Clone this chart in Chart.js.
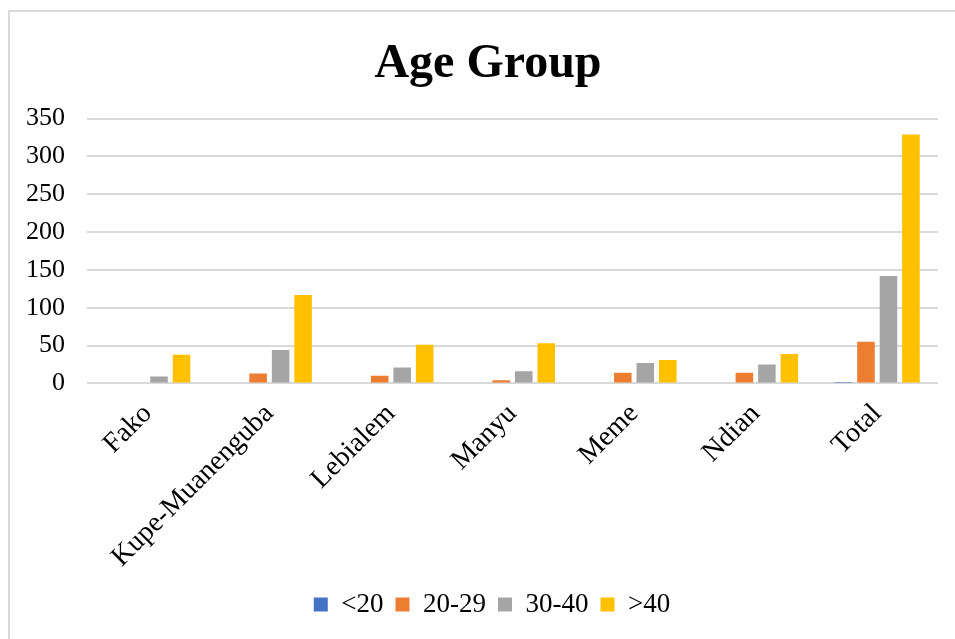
<!DOCTYPE html>
<html>
<head>
<meta charset="utf-8">
<script src="https://cdn.jsdelivr.net/npm/chart.js@4/dist/chart.umd.min.js"></script>
<style>
  html, body { margin: 0; padding: 0; background: #fff; }
  #frame {
    position: absolute; left: 8px; top: 10px; width: 1000px; height: 700px;
    border-left: 2px solid #d9d9d9; border-top: 2px solid #d9d9d9;
  }
  #wrap { position: absolute; left: 0; top: 0; width: 955px; height: 639px; }
</style>
</head>
<body>
<div id="frame"></div>
<div id="wrap"><canvas id="age-chart"></canvas></div>
<script>
const categories = ["Fako", "Kupe-Muanenguba", "Lebialem", "Manyu", "Meme", "Ndian", "Total"];
const under20 = [0, 0, 0, 0, 0, 0, 2];
const age20to29 = [0, 13, 10, 4, 14, 14, 55];
const age30to40 = [9, 44, 21, 16, 27, 25, 142];
const over40 = [38, 117, 51, 53, 31, 39, 329];
const yTicks = [0, 50, 100, 150, 200, 250, 300, 350];

const serif = "'Liberation Serif', 'Times New Roman', serif";

function series(label, data, color) {
  return {
    label,
    data,
    backgroundColor: color,
    borderWidth: 0,
    categoryPercentage: 0.74,
    barPercentage: 0.78
  };
}

// title and legend sit a little right of the canvas centre in the original
const nudgeBoxes = {
  id: "nudgeBoxes",
  afterLayout(chart) {
    if (chart.titleBlock) {
      chart.titleBlock.left += 17;
      chart.titleBlock.right += 17;
    }
    if (chart.legend) {
      chart.legend.left += 21;
      chart.legend.right += 21;
    }
  }
};

const ctx = document.getElementById("age-chart").getContext("2d");

new Chart(ctx, {
  type: "bar",
  data: {
    labels: categories,
    datasets: [
      series("<20", under20, "#4472C4"),
      series("20-29", age20to29, "#ED7D31"),
      series("30-40", age30to40, "#A5A5A5"),
      series(">40", over40, "#FFC000")
    ]
  },
  options: {
    responsive: true,
    maintainAspectRatio: false,
    animation: false,
    layout: { padding: { left: 4, right: 17, top: 36, bottom: 11 } },
    plugins: {
      title: {
        display: true,
        text: "Age Group",
        color: "#000",
        font: { family: serif, size: 48, weight: "bold" },
        padding: { top: 0, bottom: 25 }
      },
      legend: {
        position: "bottom",
        labels: {
          color: "#000",
          font: { family: serif, size: 27 },
          boxWidth: 14,
          boxHeight: 14,
          padding: 12
        }
      },
      tooltip: { enabled: false }
    },
    scales: {
      x: {
        grid: { display: false, drawTicks: false },
        border: { display: false },
        afterFit: axis => { axis.height -= 9; },
        ticks: {
          color: "#000",
          font: { family: serif, size: 28 },
          minRotation: 45,
          maxRotation: 45,
          padding: 14
        }
      },
      y: {
        min: 0,
        max: 350,
        afterBuildTicks: axis => { axis.ticks = yTicks.map(v => ({ value: v })); },
        grid: { color: "#d9d9d9", lineWidth: 2, drawTicks: false },
        border: { display: false },
        ticks: {
          color: "#000",
          font: { family: serif, size: 26 },
          padding: 22
        }
      }
    }
  },
  plugins: [nudgeBoxes]
});
</script>
</body>
</html>
